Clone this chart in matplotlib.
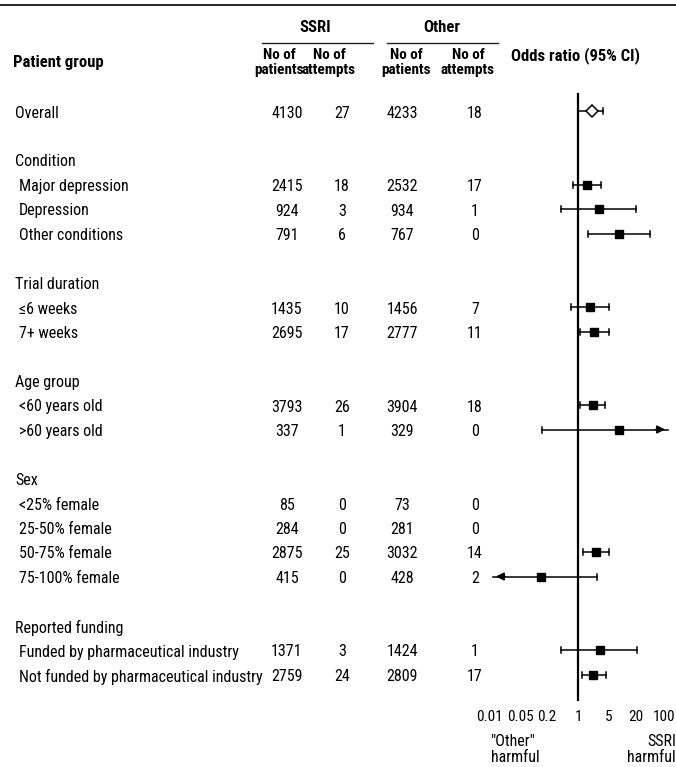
import numpy as np
import matplotlib
matplotlib.use('Agg')
import matplotlib.pyplot as plt

plt.rcParams['font.family'] = ['Roboto Condensed', 'Liberation Sans', 'DejaVu Sans']

# rows: label, header flag, row index
labels = ['Overall', 'Condition', 'Major depression', 'Depression', 'Other conditions',
          'Trial duration', '\u22646 weeks', '7+ weeks',
          'Age group', '<60 years old', '>60 years old',
          'Sex', '<25% female', '25-50% female', '50-75% female', '75-100% female',
          'Reported funding', 'Funded by pharmaceutical industry',
          'Not funded by pharmaceutical industry']
is_header = [False, True, False, False, False,
             True, False, False,
             True, False, False,
             True, False, False, False, False,
             True, False, False]
row_idx = [0, 2, 3, 4, 5, 7, 8, 9, 11, 12, 13, 15, 16, 17, 18, 19, 21, 22, 23]

# data rows only (headers skipped)
ssri_patients = [4130, 2415, 924, 791, 1435, 2695, 3793, 337, 85, 284, 2875, 415, 1371, 2759]
ssri_attempts = [27, 18, 3, 6, 10, 17, 26, 1, 0, 0, 25, 0, 3, 24]
other_patients = [4233, 2532, 934, 767, 1456, 2777, 3904, 329, 73, 281, 3032, 428, 1424, 2809]
other_attempts = [18, 17, 1, 0, 7, 11, 18, 0, 0, 0, 14, 2, 1, 17]

# odds ratios (nan = not estimable, None = arrow off scale)
odds = [2.06, 1.59, 2.96, 8.3, 1.86, 2.29, 2.17, 8.3, np.nan, np.nan, 2.54, 0.148, 3.12, 2.17]
ci_low = [1.0, 0.77, 0.41, 1.68, 0.70, 1.11, 1.11, 0.155, np.nan, np.nan, 1.30, None, 0.41, 1.23]
ci_high = [3.65, 3.29, 20, 41, 4.97, 4.97, 4.05, None, np.nan, np.nan, 4.97, 2.67, 21, 4.26]

tick_vals = [0.01, 0.05, 0.2, 1, 5, 20, 100]
tick_labels = ['0.01', '0.05', '0.2', '1', '5', '20', '100']

W, H = 676, 767
fig = plt.figure(figsize=(W / 100, H / 100), dpi=100)

# text layer in pixel coordinates
tx = fig.add_axes([0, 0, 1, 1])
tx.set_xlim(0, W)
tx.set_ylim(H, 0)
tx.axis('off')

def row_y(k):
    return 113 + 24.5 * k

fs = 11.5
col_x = [287, 342, 402, 475]

# top rule and group underlines
tx.plot([0, W], [5, 5], color='#222222', lw=1.4)
tx.plot([262, 373], [43, 43], color='#222222', lw=1.0)
tx.plot([387, 498], [43, 43], color='#222222', lw=1.0)

tx.text(315, 28, 'SSRI', ha='center', va='center', fontsize=12, fontweight='bold')
tx.text(442, 28, 'Other', ha='center', va='center', fontsize=12, fontweight='bold')
for cx, line2 in zip([279, 329, 406, 468], ['patients', 'attempts', 'patients', 'attempts']):
    tx.text(cx, 55, 'No of', ha='center', va='center', fontsize=11, fontweight='bold')
    tx.text(cx, 70, line2, ha='center', va='center', fontsize=11, fontweight='bold')
tx.text(13, 62, 'Patient group', ha='left', va='center', fontsize=12, fontweight='bold')
tx.text(511, 56, 'Odds ratio (95% CI)', ha='left', va='center', fontsize=12, fontweight='bold')

d = 0
for lab, hdr, k in zip(labels, is_header, row_idx):
    y = row_y(k)
    x0 = 15 if (hdr or k == 0) else 19
    tx.text(x0, y, lab, ha='left', va='center', fontsize=fs)
    if not hdr:
        vals = [ssri_patients[d], ssri_attempts[d], other_patients[d], other_attempts[d]]
        for cx, v in zip(col_x, vals):
            tx.text(cx, y, str(v), ha='center', va='center', fontsize=fs)
        d += 1

# forest plot: log x, pixel y
fx = fig.add_axes([0, 0, 1, 1])
fx.patch.set_alpha(0)
fx.set_xscale('log')
one_px, dec_px = 578, 44.5
fx.set_xlim(10 ** ((0 - one_px) / dec_px), 10 ** ((W - one_px) / dec_px))
fx.set_ylim(H, 0)
fx.axis('off')

fx.plot([1, 1], [94, 700], color='black', lw=1.6)

edge_lo, edge_hi = 0.0123, 105
data_rows = [k for k, hdr in zip(row_idx, is_header) if not hdr]
for i, k in enumerate(data_rows):
    y = row_y(k) - 2
    o, lo, hi = odds[i], ci_low[i], ci_high[i]
    if np.isnan(o):
        continue
    left = edge_lo if lo is None else lo
    right = edge_hi if hi is None else hi
    fx.plot([left, right], [y, y], color='black', lw=1.1)
    if lo is None:
        fx.annotate('', xy=(edge_lo, y), xytext=(edge_lo * 2.2, y),
                    arrowprops=dict(arrowstyle='-|>', color='black', lw=1.1, mutation_scale=12))
    else:
        fx.plot([lo, lo], [y - 3, y + 3], color='black', lw=1.1)
    if hi is None:
        fx.annotate('', xy=(edge_hi, y), xytext=(edge_hi / 2.2, y),
                    arrowprops=dict(arrowstyle='-|>', color='black', lw=1.1, mutation_scale=12))
    else:
        fx.plot([hi, hi], [y - 3, y + 3], color='black', lw=1.1)
    if i == 0:
        fx.plot([o], [y], marker='D', markersize=6.5, markerfacecolor='white',
                markeredgecolor='black', markeredgewidth=1.1, zorder=3)
    else:
        fx.plot([o], [y], marker='s', markersize=5.5, color='black', zorder=3)

# tick labels; the last one is kept inside the right edge
for v, s in zip(tick_vals, tick_labels):
    if v == tick_vals[-1]:
        tx.text(W - 1, 717, s, ha='right', va='center', fontsize=fs - 0.5)
    else:
        fx.text(v, 717, s, ha='center', va='center', fontsize=fs - 0.5)

tx.text(491, 742, '"Other"', ha='left', va='center', fontsize=fs)
tx.text(491, 757, 'harmful', ha='left', va='center', fontsize=fs)
tx.text(676, 742, 'SSRI', ha='right', va='center', fontsize=fs)
tx.text(676, 757, 'harmful', ha='right', va='center', fontsize=fs)

fig.savefig('out.png', dpi=100, facecolor='white')
